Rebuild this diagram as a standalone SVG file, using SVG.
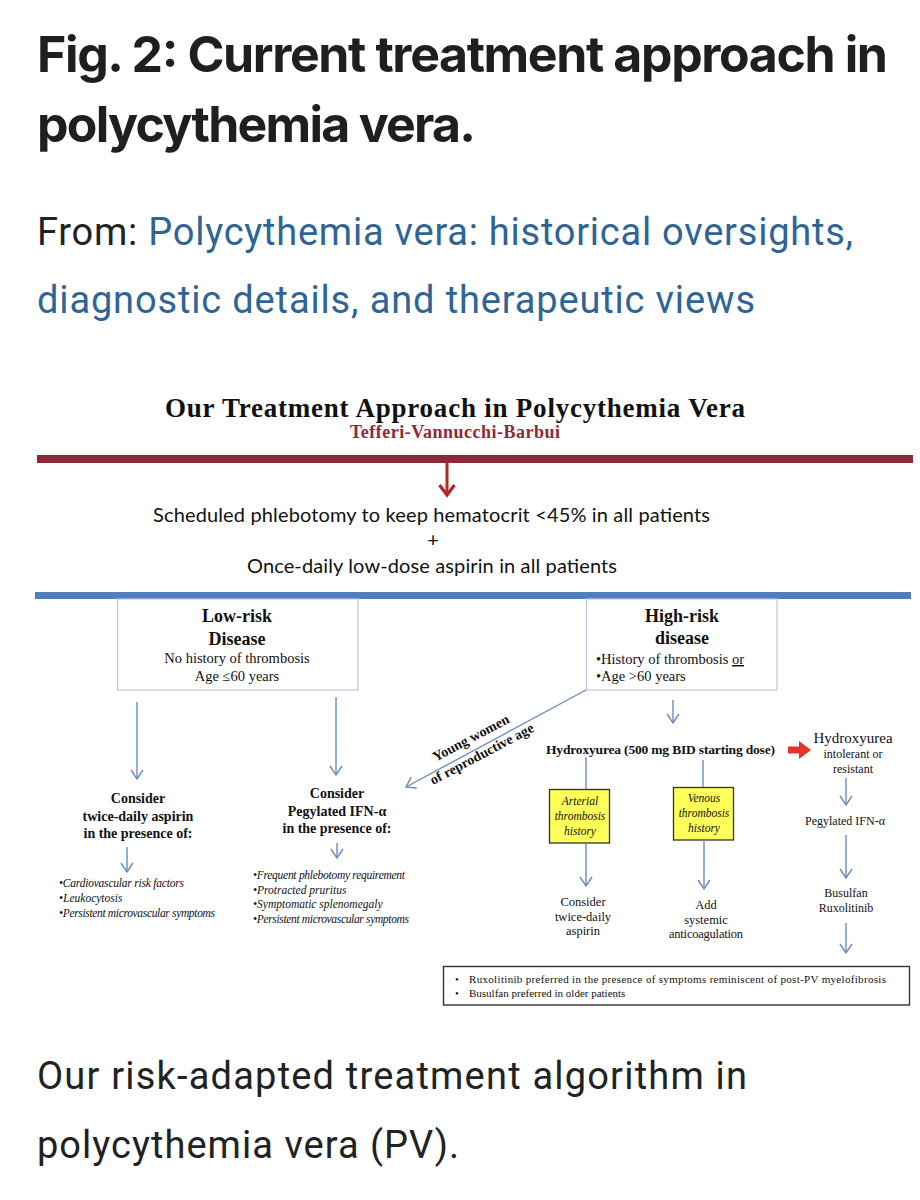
<svg xmlns="http://www.w3.org/2000/svg" width="920" height="1200" viewBox="0 0 920 1200">
<defs>
<style>
.hd{font-family:Inter,"Liberation Sans",sans-serif;font-weight:700;font-size:50px;fill:#1f1f1f}
.sub{font-family:Roboto,"Liberation Sans",sans-serif;font-size:38px;fill:#222}
.lnk{fill:#2e6596}
.cap{font-family:Roboto,"Liberation Sans",sans-serif;font-size:38px;fill:#222}
.sb{font-family:"Liberation Serif",serif;font-weight:700;fill:#111}
.sr{font-family:"Liberation Serif",serif;fill:#111}
.si{font-family:"Liberation Serif",serif;font-style:italic;fill:#111}
.cal{font-family:Lato,"Open Sans",sans-serif;font-size:20px;fill:#111}
.c{text-anchor:middle}
.ln{stroke:#6b8cbf;stroke-width:1.4;fill:none}
</style>
<marker id="ah" markerUnits="userSpaceOnUse" markerWidth="16" markerHeight="16" refX="10" refY="8" orient="auto">
<path d="M1,2 L10,8 L1,14" fill="none" stroke="#6b8cbf" stroke-width="1.4"/>
</marker>
<marker id="rh" markerUnits="userSpaceOnUse" markerWidth="20" markerHeight="20" refX="12" refY="10" orient="auto">
<path d="M2,2.5 L12,10 L2,17.5" fill="none" stroke="#b5262b" stroke-width="3.2"/>
</marker>
</defs>
<rect width="920" height="1200" fill="#fff"/>

<g id="header">
<text class="hd" x="37" y="72" textLength="851">Fig. 2: Current treatment approach in</text>
<text class="hd" x="37" y="142" textLength="439">polycythemia vera.</text>
<text class="sub" x="37" y="245" textLength="816">From: <tspan class="lnk">Polycythemia vera: historical oversights,</tspan></text>
<text class="sub lnk" x="37" y="313" textLength="718">diagnostic details, and therapeutic views</text>
</g>

<g id="title">
<text class="sb" x="165" y="417" font-size="27" textLength="580">Our Treatment Approach in Polycythemia Vera</text>
<text class="sb" x="350" y="438" font-size="18" style="fill:#9b2233" textLength="210">Tefferi-Vannucchi-Barbui</text>
<rect x="37" y="455" width="876" height="8" fill="#8e2838"/>
</g>

<g id="allpatients">
<text class="cal" x="153" y="522" textLength="557">Scheduled phlebotomy to keep hematocrit &lt;45% in all patients</text>
<text class="cal c" x="433" y="547">+</text>
<text class="cal" x="247" y="573" textLength="370">Once-daily low-dose aspirin in all patients</text>
<rect x="35" y="592" width="876" height="7" fill="#4f7fbd"/>
</g>

<g id="lowrisk">
<rect x="117.5" y="599" width="240.5" height="91" fill="none" stroke="#bcc8dc" stroke-width="1.2"/>
<text class="sb c" x="237" y="622" font-size="18">Low-risk</text>
<text class="sb c" x="237" y="645" font-size="18">Disease</text>
<text class="sr c" x="237" y="663" font-size="14.5">No history of  thrombosis</text>
<text class="sr c" x="237" y="681" font-size="14.5">Age ≤60 years</text>
</g>

<g id="highrisk">
<rect x="586.5" y="599" width="190.5" height="91" fill="none" stroke="#bcc8dc" stroke-width="1.2"/>
<text class="sb c" x="682" y="622" font-size="18">High-risk</text>
<text class="sb c" x="682" y="644" font-size="18">disease</text>
<text class="sr" x="596" y="664" font-size="14.5">•History of  thrombosis <tspan text-decoration="underline">or</tspan></text>
<text class="sr" x="596" y="681" font-size="14.5">•Age &gt;60 years</text>
</g>

<g id="aspirin-low">
<text class="sb c" x="138" y="803" font-size="14">Consider</text>
<text class="sb c" x="138" y="821" font-size="14">twice-daily aspirin</text>
<text class="sb c" x="138" y="838" font-size="14">in the presence of:</text>
<text class="si" x="59" y="887" font-size="11.5" textLength="125">•Cardiovascular risk factors</text>
<text class="si" x="59" y="902" font-size="11.5">•Leukocytosis</text>
<text class="si" x="59" y="917" font-size="11.5" textLength="156">•Persistent microvascular symptoms</text>
</g>

<g id="ifn-low">
<text class="sb c" x="337" y="798" font-size="14">Consider</text>
<text class="sb c" x="337" y="816" font-size="14">Pegylated IFN-α</text>
<text class="sb c" x="337" y="833" font-size="14">in the presence of:</text>
<text class="si" x="253" y="879" font-size="11.5" textLength="152">•Frequent phlebotomy requirement</text>
<text class="si" x="253" y="894" font-size="11.5">•Protracted pruritus</text>
<text class="si" x="253" y="908" font-size="11.5">•Symptomatic splenomegaly</text>
<text class="si" x="253" y="923" font-size="11.5" textLength="156">•Persistent microvascular symptoms</text>
</g>

<g id="young-label">
<text class="sb c" font-size="14" transform="translate(473,742) rotate(-28)">Young women</text>
<text class="sb c" font-size="14" transform="translate(484,758) rotate(-28)">of reproductive age</text>
</g>

<g id="hydroxyurea">
<text class="sb" x="546" y="754" font-size="13.5" textLength="229">Hydroxyurea (500 mg BID starting dose)</text>
</g>

<g id="hu-resistant">
<text class="sr c" x="853" y="743" font-size="15">Hydroxyurea</text>
<text class="sr c" x="853" y="758" font-size="12">intolerant or</text>
<text class="sr c" x="853" y="773" font-size="12">resistant</text>
</g>

<g id="arterial">
<rect x="549.5" y="789.5" width="60" height="53.5" fill="#ffff5a" stroke="#333" stroke-width="1.3"/>
<text class="si c" x="580" y="805" font-size="11.5">Arterial</text>
<text class="si c" x="580" y="820" font-size="11.5">thrombosis</text>
<text class="si c" x="580" y="835" font-size="11.5">history</text>
</g>

<g id="venous">
<rect x="673.5" y="787.5" width="60" height="52.5" fill="#ffff5a" stroke="#333" stroke-width="1.3"/>
<text class="si c" x="704" y="802" font-size="11.5">Venous</text>
<text class="si c" x="704" y="817" font-size="11.5">thrombosis</text>
<text class="si c" x="704" y="832" font-size="11.5">history</text>
</g>

<g id="arterial-tx">
<text class="sr c" x="583" y="906" font-size="12.5">Consider</text>
<text class="sr c" x="583" y="921" font-size="12.5">twice-daily</text>
<text class="sr c" x="583" y="935" font-size="12.5">aspirin</text>
</g>

<g id="venous-tx">
<text class="sr c" x="706" y="909" font-size="12.5">Add</text>
<text class="sr c" x="706" y="924" font-size="12.5">systemic</text>
<text class="sr c" x="706" y="938" font-size="12.5" textLength="74">anticoagulation</text>
</g>

<g id="ifn-high">
<text class="sr c" x="845" y="825" font-size="12">Pegylated IFN-α</text>
</g>

<g id="busulfan">
<text class="sr c" x="846" y="897" font-size="12">Busulfan</text>
<text class="sr c" x="846" y="912" font-size="12">Ruxolitinib</text>
</g>

<g id="notes">
<rect x="443.5" y="966.5" width="466" height="38.5" fill="#fff" stroke="#333" stroke-width="1.4"/>
<text class="sr" x="455" y="983" font-size="11">•</text>
<text class="sr" x="469" y="983" font-size="11" textLength="417">Ruxolitinib preferred in the presence of symptoms reminiscent of post-PV myelofibrosis</text>
<text class="sr" x="455" y="997" font-size="11">•</text>
<text class="sr" x="469" y="997" font-size="11">Busulfan preferred in older patients</text>
</g>

<g id="connectors">
<line x1="447" y1="463" x2="447" y2="495" stroke="#b5262b" stroke-width="3" marker-end="url(#rh)"/>
<line class="ln" x1="137" y1="702" x2="137" y2="779" marker-end="url(#ah)"/>
<line class="ln" x1="336" y1="697" x2="336" y2="775" marker-end="url(#ah)"/>
<line class="ln" x1="127" y1="847" x2="127" y2="872" marker-end="url(#ah)"/>
<line class="ln" x1="337" y1="843" x2="337" y2="858" marker-end="url(#ah)"/>
<line class="ln" x1="586" y1="690" x2="406" y2="787" marker-end="url(#ah)"/>
<line class="ln" x1="673" y1="700" x2="673" y2="723" marker-end="url(#ah)"/>
<line class="ln" x1="586" y1="757" x2="586" y2="789"/>
<line class="ln" x1="703" y1="760" x2="703" y2="787"/>
<line class="ln" x1="586" y1="843" x2="586" y2="886" marker-end="url(#ah)"/>
<line class="ln" x1="704" y1="840" x2="704" y2="889" marker-end="url(#ah)"/>
<line class="ln" x1="846" y1="778" x2="846" y2="805" marker-end="url(#ah)"/>
<line class="ln" x1="846" y1="835" x2="846" y2="878" marker-end="url(#ah)"/>
<line class="ln" x1="846" y1="923" x2="846" y2="953" marker-end="url(#ah)"/>
<polygon points="788,746.5 799,746.5 799,741 811,750 799,759 799,753.5 788,753.5" fill="#e5322d"/>
</g>

<g id="caption">
<text class="cap" x="37" y="1089" textLength="710">Our risk-adapted treatment algorithm in</text>
<text class="cap" x="37" y="1158" textLength="422">polycythemia vera (PV).</text>
</g>
</svg>
